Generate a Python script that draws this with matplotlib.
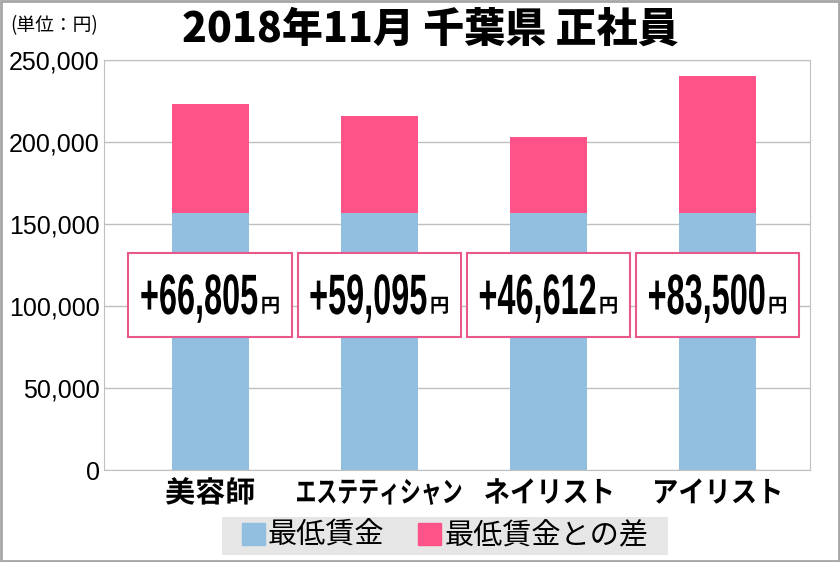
import matplotlib.pyplot as plt
from matplotlib.patches import Rectangle, Patch, PathPatch
from matplotlib.textpath import TextPath
from matplotlib.font_manager import FontProperties
from matplotlib.transforms import Affine2D
import numpy as np

plt.rcParams['font.family'] = ['Noto Sans CJK JP', 'DejaVu Sans']

categories = ['美容師', 'エステティシャン', 'ネイリスト', 'アイリスト']
min_wage = [156600, 156600, 156600, 156600]
diff = [66805, 59095, 46612, 83500]
diff_labels = ['+66,805', '+59,095', '+46,612', '+83,500']
series_names = ['最低賃金', '最低賃金との差']
yticks = [0, 50000, 100000, 150000, 200000, 250000]

blue = '#92bee0'
pink = '#fe5389'

fig = plt.figure(figsize=(8.4, 5.62), dpi=100)
ax = fig.add_axes([0.1238, 0.1637, 0.8405, 0.7295])

x = np.arange(len(categories))
ax.bar(x, min_wage, width=0.455, color=blue, zorder=2)
ax.bar(x, diff, width=0.455, bottom=min_wage, color=pink, zorder=2)

ax.set_xlim(-0.627, 3.547)
ax.set_ylim(0, 250000)
ax.set_yticks(yticks)
ax.set_yticklabels([f'{v:,}' for v in yticks], family='Liberation Sans', fontsize=18)
ax.yaxis.grid(True, color='#bfbfbf', lw=1, zorder=0)
ax.tick_params(axis='y', length=0, pad=3)
ax.set_xticks(x)
ax.set_xticklabels([])
ax.tick_params(axis='x', length=0)
for s in ax.spines.values():
    s.set_color('#c0c0c0')

k = fig.dpi / 72


def squeezed_text(xd, yd, s, size, sx, prop, ha='center'):
    # draw text as a path, squeezed horizontally; (xd, yd) = baseline anchor in pixels
    tp = TextPath((0, 0), s, size=size, prop=prop)
    bb = tp.get_extents()
    w = bb.width * sx * k
    if ha == 'center':
        x0 = xd - w / 2
    elif ha == 'left':
        x0 = xd
    else:
        x0 = xd - w
    tr = Affine2D().translate(-bb.x0, 0).scale(sx * k, k).translate(x0, yd)
    fig.add_artist(PathPatch(tp, transform=tr, facecolor='black', lw=0, zorder=5))
    return w


num_prop = FontProperties(family='Liberation Sans', weight='bold')
jp_prop = FontProperties(family='Noto Sans CJK JP', weight='bold')

# value boxes
box_w, box_h, box_y = 0.965, 51200, 81100
for xi, lab in zip(x, diff_labels):
    ax.add_patch(Rectangle((xi - box_w / 2, box_y), box_w, box_h, facecolor='white',
                           edgecolor='#e8588a', lw=1.5, zorder=3))
    cx, cy = ax.transData.transform((xi, box_y + box_h / 2))
    w1 = TextPath((0, 0), lab, size=41, prop=num_prop).get_extents().width * 0.57 * k
    w2 = TextPath((0, 0), '円', size=14, prop=jp_prop).get_extents().width * k
    gap = 5
    left = cx - (w1 + gap + w2) / 2
    base = cy - 19
    squeezed_text(left, base, lab, 41, 0.57, num_prop, ha='left')
    squeezed_text(left + w1 + gap, base + 2, '円', 14, 1.0, jp_prop, ha='left')

# category labels
cat_sx = [1.03, 0.716, 0.9, 0.9]
for xi, lab, sx in zip(x, categories, cat_sx):
    cx, _ = ax.transData.transform((xi, 0))
    squeezed_text(cx, 562 - 502, lab, 21, sx, jp_prop)

fig.text(0.512, 0.948, '2018年11月 千葉県 正社員', ha='center', va='center',
         fontsize=29.5, fontweight='black')
fig.text(0.012, 0.9546, '(単位：円)', ha='left', va='center', fontsize=13.5)

fig.add_artist(Rectangle((0.2643, 0.01246), 0.531, 0.0676, transform=fig.transFigure,
                         facecolor='#e6e6e6', edgecolor='none'))
handles = [Patch(color=blue), Patch(color=pink)]
leg = fig.legend(handles, series_names, loc='center', bbox_to_anchor=(0.5298, 0.0463),
                 ncol=2, fontsize=21, frameon=False, handlelength=0.8,
                 handleheight=0.8, handletextpad=0.1, columnspacing=1.15,
                 borderpad=0.0)

fig.add_artist(Rectangle((0.001, 0.001), 0.998, 0.998, transform=fig.transFigure,
                         fill=False, edgecolor='#a6a6a6', lw=2))

fig.savefig('out.png', dpi=100)
